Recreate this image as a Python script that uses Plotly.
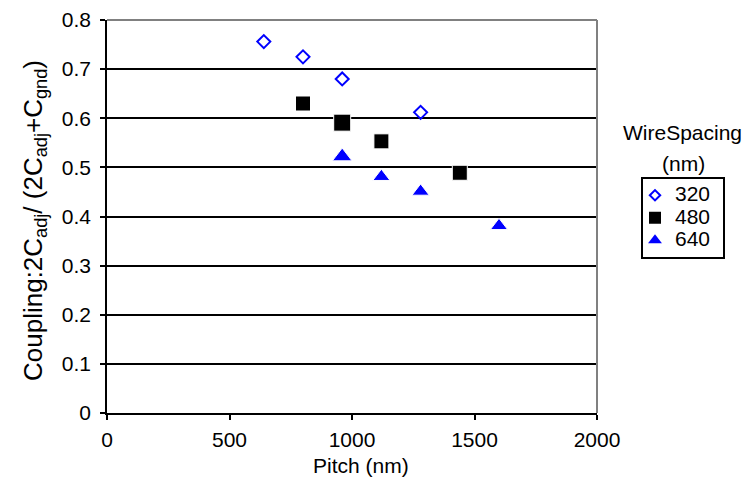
import plotly.graph_objects as go

# ---- data ----
pitch_320 = [640, 800, 960, 1280]
coupling_320 = [0.756, 0.725, 0.680, 0.612]

pitch_480 = [800, 960, 1120, 1440]
coupling_480 = [0.630, 0.591, 0.553, 0.489]

pitch_640 = [960, 1120, 1280, 1600]
coupling_640 = [0.522, 0.481, 0.451, 0.381]

series_names = ["320", "480", "640"]
x_ticks = [0, 500, 1000, 1500, 2000]
y_ticks = [0, 0.1, 0.2, 0.3, 0.4, 0.5, 0.6, 0.7, 0.8]

FONT = "Liberation Sans, Arial, sans-serif"
BLUE = "#0000FF"

# the page body adds an 8px offset, so the figure is drawn 8px smaller
# and every reference pixel position is shifted by -8
OFF = 8
W, H = 756 - OFF, 486 - OFF
PL, PR, PT, PB = 107, 597, 20, 413          # plot area in reference pixels
L, T = PL - OFF, PT - OFF
R = W - (PR - OFF)
B = H - (PB - OFF)
PW, PH = PR - PL, PB - PT


def px_x(p):
    return (p - PL) / PW


def px_y(p):
    return (PB - p) / PH


fig = go.Figure()

# data traces
fig.add_trace(go.Scatter(
    x=pitch_320, y=coupling_320, mode="markers", showlegend=False,
    marker=dict(symbol="diamond-open", size=10, color=BLUE, opacity=1,
                line=dict(width=2, color=BLUE)),
))
fig.add_trace(go.Scatter(
    x=pitch_480, y=coupling_480, mode="markers", showlegend=False,
    marker=dict(symbol="square", size=[15, 17, 15, 15], color="black", opacity=1),
))
fig.add_trace(go.Scatter(
    x=pitch_640, y=coupling_640, mode="markers", showlegend=False,
    marker=dict(symbol="triangle-up", size=[17, 15, 15, 15], color=BLUE, opacity=1),
))

# legend-only entries (smaller legend symbols as in the reference)
PAD = "&nbsp;\u2009"
fig.add_trace(go.Scatter(
    x=[None], y=[None], mode="markers",
    name="<span style='font-size:21px'>%s</span>%s" % (series_names[0], PAD),
    marker=dict(symbol="diamond-open", size=8, color=BLUE, line=dict(width=2, color=BLUE)),
))
fig.add_trace(go.Scatter(
    x=[None], y=[None], mode="markers",
    name="<span style='font-size:21px'>%s</span>%s" % (series_names[1], PAD),
    marker=dict(symbol="square", size=12, color="black"),
))
fig.add_trace(go.Scatter(
    x=[None], y=[None], mode="markers",
    name="<span style='font-size:21px'>%s</span>%s" % (series_names[2], PAD),
    marker=dict(symbol="triangle-up", size=12, color=BLUE),
))

axis_common = dict(
    showline=True, linecolor="black", linewidth=1.5,
    ticks="outside", ticklen=5, tickwidth=1.5, tickcolor="black",
    zeroline=False,
    tickfont=dict(family=FONT, size=21, color="black"),
)

fig.update_xaxes(
    range=[0, 2000], tickvals=x_ticks, ticktext=[str(v) for v in x_ticks],
    showgrid=False, ticklabelstandoff=2, **axis_common,
)
fig.update_yaxes(
    range=[0, 0.8], tickvals=y_ticks, ticktext=[("%g" % v) for v in y_ticks],
    showgrid=True, gridcolor="black", gridwidth=1.7,
    ticklabelstandoff=5,
    **axis_common,
)

# gray top and right border of plot area
fig.add_shape(type="line", xref="paper", yref="paper", x0=0, x1=1, y0=1, y1=1,
              line=dict(color="#808080", width=2), layer="above")
fig.add_shape(type="line", xref="paper", yref="paper", x0=1, x1=1, y0=0, y1=1,
              line=dict(color="#808080", width=2), layer="above")

annotations = [
    dict(text="Pitch (nm)", x=px_x(361), y=px_y(465), xref="paper", yref="paper",
         xanchor="center", yanchor="middle", showarrow=False,
         font=dict(family=FONT, size=21, color="black")),
    dict(text="Coupling:2C<sub>adj</sub>/ (2C<sub>adj</sub>+C<sub>gnd</sub>)",
         x=px_x(34), y=px_y(221), xref="paper", yref="paper", textangle=-90,
         xanchor="center", yanchor="middle", showarrow=False,
         font=dict(family=FONT, size=26, color="black")),
    dict(text="WireSpacing", x=px_x(682), y=px_y(133), xref="paper", yref="paper",
         xanchor="center", yanchor="middle", showarrow=False,
         font=dict(family=FONT, size=21, color="black")),
    dict(text="(nm)", x=px_x(683), y=px_y(163), xref="paper", yref="paper",
         xanchor="center", yanchor="middle", showarrow=False,
         font=dict(family=FONT, size=21, color="black")),
]

fig.update_layout(
    width=W, height=H,
    margin=dict(l=L, r=R, t=T, b=B, pad=0, autoexpand=False),
    paper_bgcolor="white", plot_bgcolor="white",
    font=dict(family=FONT, size=20, color="black"),
    annotations=annotations,
    legend=dict(
        x=px_x(641), y=px_y(177), xanchor="left", yanchor="top",
        bordercolor="black", borderwidth=2, bgcolor="white",
        font=dict(family=FONT, size=15, color="black"),
        indentation=-8, itemwidth=30, tracegroupgap=0,
    ),
)

fig.write_html("out.html")
